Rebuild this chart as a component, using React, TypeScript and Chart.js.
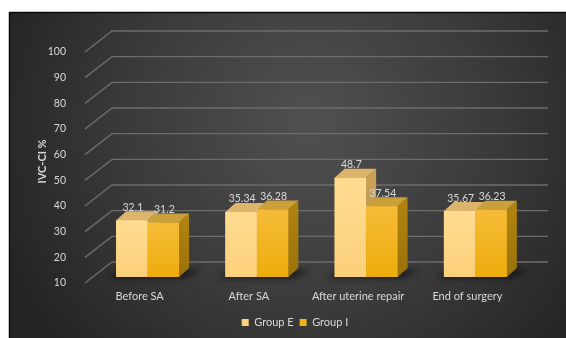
import { useEffect, useRef } from "react";
import { Chart, registerables } from "chart.js";

Chart.register(...registerables);

const categories = ["Before SA", "After SA", "After uterine repair", "End of surgery"];
const groupE = [32.1, 35.34, 48.7, 35.67];
const groupI = [31.2, 36.28, 37.54, 36.23];
const seriesNames = ["Group E", "Group I"];
const yMin = 10;
const yMax = 100;
const yStep = 10;
const axisTitle = "IVC-CI %";

const TEXT = "#d9d9d9";
const FONT = "Lato, 'Noto Sans', sans-serif";

const faces = [
  { frontTop: "#ffdc92", frontBot: "#fcd07a", top: "#dcb46c", side: "#c9a258" },
  { frontTop: "#f5bc38", frontBot: "#eeac0c", top: "#caa03a", side: "#b0830f" },
];

const DX = 10;
const DY = 9;

const bgPlugin = {
  id: "bg",
  beforeDraw(chart: any) {
    const ctx = chart.ctx;
    const w = chart.width;
    const h = chart.height;
    ctx.save();
    const g = ctx.createRadialGradient(310, 120, 10, 310, 130, 330);
    g.addColorStop(0, "#4f4f4f");
    g.addColorStop(0.55, "#3a3a3a");
    g.addColorStop(1, "#242424");
    ctx.fillStyle = g;
    ctx.fillRect(9, 12, w - 9, h - 12);
    ctx.strokeStyle = "#0a0a0a";
    ctx.lineWidth = 1.5;
    ctx.beginPath();
    ctx.moveTo(9.5, h);
    ctx.lineTo(9.5, 12.5);
    ctx.lineTo(w, 12.5);
    ctx.stroke();
    ctx.restore();
  },
};

const gridPlugin = {
  id: "grid3d",
  beforeDatasetsDraw(chart: any) {
    const ctx = chart.ctx;
    const ys = chart.scales.y;
    const area = chart.chartArea;
    const fx = area.left - 8;
    const bx = area.left + 19;
    const ex = area.right + 18;
    ctx.save();
    ctx.strokeStyle = "#6c6c6c";
    ctx.lineWidth = 1.4;
    ys.ticks.forEach((t: any) => {
      const y = ys.getPixelForValue(t.value);
      ctx.beginPath();
      ctx.moveTo(fx, y + 6);
      ctx.lineTo(bx, y - 15);
      ctx.lineTo(ex, y - 15);
      ctx.stroke();
    });
    const m0 = chart.getDatasetMeta(0);
    const m1 = chart.getDatasetMeta(1);
    ctx.filter = "blur(3px)";
    ctx.fillStyle = "rgba(0,0,0,0.6)";
    m0.data.forEach((b0: any, i: number) => {
      const b1 = m1.data[i];
      const p0 = b0.getProps(["x", "base", "width"], true);
      const p1 = b1.getProps(["x", "base", "width"], true);
      const x0 = p0.x - p0.width / 2;
      const x1 = p1.x + p1.width / 2;
      const base = p0.base;
      ctx.beginPath();
      ctx.moveTo(x0 - 8, base + 1);
      ctx.lineTo(x1 + 4, base + 1);
      ctx.lineTo(x1 + DX + 12, base - DY + 2);
      ctx.lineTo(x0 + DX - 4, base - DY + 2);
      ctx.closePath();
      ctx.fill();
    });
    ctx.restore();
  },
};

const barsPlugin = {
  id: "bars3d",
  afterDatasetsDraw(chart: any) {
    const ctx = chart.ctx;
    const metas = [chart.getDatasetMeta(0), chart.getDatasetMeta(1)];
    const n = metas[0].data.length;
    ctx.save();
    for (let i = 0; i < n; i++) {
      metas.forEach((meta: any, d: number) => {
        const bar = meta.data[i];
        const { x, y, base, width } = bar.getProps(["x", "y", "base", "width"], true);
        const x0 = x - width / 2;
        const x1 = x + width / 2;
        const f = faces[d];
        const sg = ctx.createLinearGradient(0, y, 0, base);
        sg.addColorStop(0, f.side);
        sg.addColorStop(1, d === 0 ? "#b48c40" : "#9a720a");
        ctx.fillStyle = sg;
        ctx.beginPath();
        ctx.moveTo(x1, y);
        ctx.lineTo(x1 + DX, y - DY);
        ctx.lineTo(x1 + DX, base - DY);
        ctx.lineTo(x1, base);
        ctx.closePath();
        ctx.fill();
        ctx.fillStyle = f.top;
        ctx.beginPath();
        ctx.moveTo(x0, y);
        ctx.lineTo(x0 + DX, y - DY);
        ctx.lineTo(x1 + DX, y - DY);
        ctx.lineTo(x1, y);
        ctx.closePath();
        ctx.fill();
        const fg = ctx.createLinearGradient(0, y, 0, base);
        fg.addColorStop(0, f.frontTop);
        fg.addColorStop(1, f.frontBot);
        ctx.fillStyle = fg;
        ctx.fillRect(x0, y, x1 - x0, base - y);
      });
    }
    ctx.fillStyle = TEXT;
    ctx.font = `10.5px ${FONT}`;
    ctx.textAlign = "center";
    ctx.textBaseline = "middle";
    metas.forEach((meta: any, d: number) => {
      const values = d === 0 ? groupE : groupI;
      meta.data.forEach((bar: any, i: number) => {
        const { x, y } = bar.getProps(["x", "y"], true);
        ctx.fillText(String(values[i]), x + 1, y - 13);
      });
    });
    ctx.restore();
  },
};

export default function App() {
  const ref = useRef<HTMLCanvasElement | null>(null);
  useEffect(() => {
    const canvas = ref.current;
    if (!canvas) return;
    const chart = new Chart(canvas, {
      type: "bar",
      data: {
        labels: categories,
        datasets: [
          {
            label: seriesNames[0],
            data: groupE,
            base: yMin,
            backgroundColor: "#fdd27f",
            borderWidth: 0,
            categoryPercentage: 0.576,
            barPercentage: 1,
          },
          {
            label: seriesNames[1],
            data: groupI,
            base: yMin,
            backgroundColor: "#f0b21c",
            borderWidth: 0,
            categoryPercentage: 0.576,
            barPercentage: 1,
          },
        ],
      },
      options: {
        animation: false,
        responsive: false,
        maintainAspectRatio: false,
        devicePixelRatio: 1,
        layout: { padding: { left: 33, right: 9, top: 46, bottom: 0 } },
        plugins: {
          legend: {
            position: "bottom",
            labels: {
              color: TEXT,
              font: { family: FONT, size: 11 },
              boxWidth: 7,
              boxHeight: 7,
              padding: 6,
            },
          },
          tooltip: { enabled: false },
        },
        scales: {
          x: {
            grid: { display: false },
            border: { display: false },
            ticks: {
              color: TEXT,
              font: { family: FONT, size: 11 },
              padding: 5,
              labelOffset: -8,
              maxRotation: 0,
              autoSkip: false,
            },
            afterFit: (s: any) => {
              s.height = 34;
            },
          },
          y: {
            min: yMin,
            max: yMax,
            grid: { display: false },
            border: { display: false },
            ticks: {
              stepSize: yStep,
              color: TEXT,
              font: { family: FONT, size: 10.5 },
              padding: 19,
              labelOffset: 6,
            },
            title: {
              display: true,
              text: axisTitle,
              color: TEXT,
              font: { family: FONT, size: 11, weight: "bold" },
              padding: { top: 3, bottom: 1 },
            },
            afterFit: (s: any) => {
              s.width = 60;
            },
          },
          y2: {
            position: "right",
            display: true,
            grid: { display: false },
            border: { display: false },
            ticks: { display: false },
            afterFit: (s: any) => {
              s.width = 27;
            },
          },
        },
      },
      plugins: [bgPlugin, gridPlugin, barsPlugin],
    } as any);
    return () => chart.destroy();
  }, []);
  return (
    <div style={{ position: "fixed", left: 0, top: 0, width: 566, height: 338 }}>
      <canvas ref={ref} width={566} height={338} style={{ display: "block" }} />
    </div>
  );
}
